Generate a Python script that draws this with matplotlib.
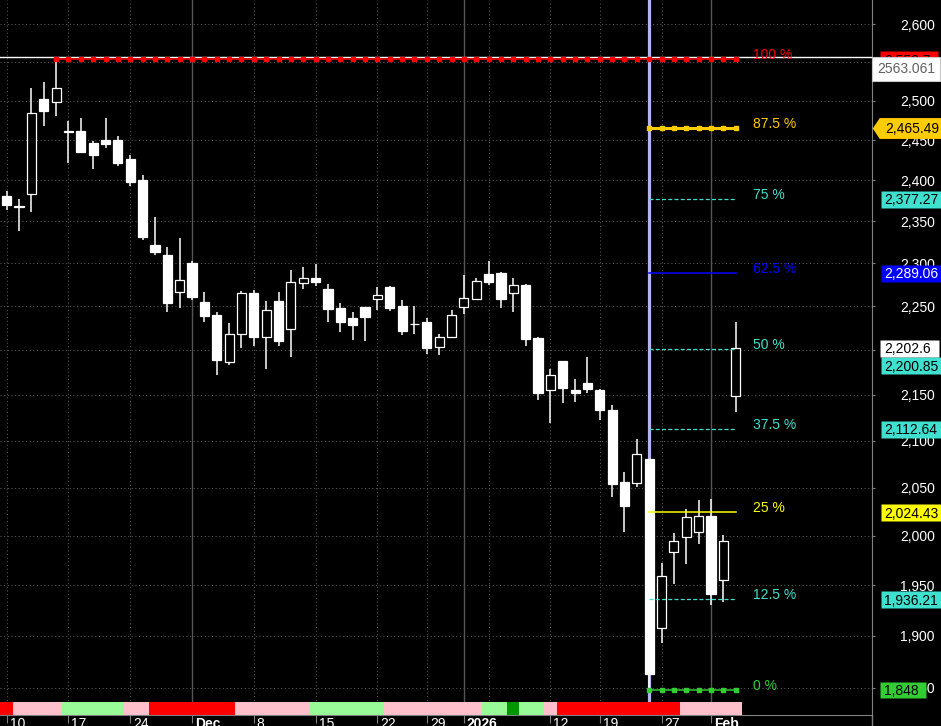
import itertools
import matplotlib
matplotlib.use("Agg")
import matplotlib.pyplot as plt
import matplotlib.ticker as ticker
from matplotlib.lines import Line2D
from matplotlib.transforms import ScaledTranslation
import numpy as np

plt.rcParams['font.family'] = ['Liberation Sans', 'DejaVu Sans']

# daily OHLC, Nov 10 -> Feb 3 (holidays skipped)
opens = [2380.7, 2369.0, 2383.6, 2502.2, 2498.7, 2461.2, 2461.5, 2446.4, 2450.1, 2450.1,
         2426.4, 2400.4, 2321.7, 2309.8, 2266.8, 2300.3, 2254.9, 2239.8, 2186.8, 2217.8,
         2265.3, 2215.0, 2256.1, 2224.0, 2277.2, 2282.7, 2270.0, 2247.9, 2236.4, 2249.1,
         2258.3, 2272.3, 2250.2, 2230.0, 2231.8, 2203.2, 2215.0, 2248.7, 2258.6, 2287.4,
         2288.5, 2265.0, 2274.6, 2213.5, 2155.4, 2187.5, 2155.4, 2163.2, 2155.4, 2133.1,
         2056.0, 2055.3, 2080.1, 1907.7, 1983.7, 1999.0, 2004.4, 2020.5, 1955.2, 2149.0]
highs = [2386.9, 2376.7, 2515.9, 2524.1, 2553.7, 2474.1, 2477.9, 2448.9, 2477.9, 2454.8,
         2431.3, 2406.6, 2355.3, 2319.3, 2330.0, 2302.7, 2266.4, 2243.2, 2230.7, 2267.6,
         2268.8, 2256.1, 2266.4, 2292.1, 2295.6, 2299.2, 2275.8, 2253.7, 2243.2, 2249.5,
         2272.3, 2273.5, 2257.2, 2250.2, 2236.4, 2218.1, 2245.5, 2286.2, 2282.7, 2302.7,
         2289.5, 2282.7, 2275.2, 2214.7, 2178.6, 2188.0, 2167.5, 2192.0, 2156.0, 2138.6,
         2066.6, 2101.5, 2080.5, 1972.3, 2003.2, 2027.6, 2037.0, 2038.0, 2001.2, 2231.8]
lows = [2363.7, 2338.8, 2361.7, 2468.2, 2480.5, 2421.4, 2433.8, 2413.9, 2440.1, 2417.6,
        2393.1, 2327.6, 2310.1, 2243.6, 2248.2, 2257.6, 2232.2, 2172.3, 2183.5, 2202.4,
        2204.8, 2178.9, 2204.8, 2192.4, 2270.0, 2273.5, 2231.8, 2220.4, 2211.2, 2210.1,
        2245.5, 2244.4, 2217.0, 2218.1, 2195.2, 2194.1, 2213.5, 2241.2, 2258.0, 2274.6,
        2247.9, 2243.2, 2204.5, 2144.1, 2118.8, 2140.8, 2141.9, 2152.0, 2122.1, 2040.2,
        2004.3, 2050.8, 1848.0, 1892.9, 1951.2, 1971.3, 1991.9, 1930.7, 1933.3, 2130.9]
closes = [2370.2, 2367.5, 2483.9, 2487.2, 2515.9, 2460.0, 2435.1, 2431.3, 2445.1, 2421.4,
          2398.0, 2331.2, 2313.7, 2254.0, 2280.0, 2261.1, 2239.0, 2189.0, 2217.8, 2265.3,
          2215.0, 2245.2, 2210.4, 2277.7, 2282.4, 2278.0, 2246.7, 2231.8, 2228.4, 2237.5,
          2262.9, 2247.9, 2221.5, 2229.0, 2202.1, 2214.7, 2239.5, 2259.1, 2278.9, 2278.0,
          2258.3, 2274.3, 2212.7, 2152.0, 2172.0, 2157.6, 2152.0, 2156.5, 2133.1, 2053.9,
          2030.8, 2085.4, 1863.1, 1959.2, 1994.6, 2019.2, 2020.5, 1941.3, 1994.6, 2202.6]

# date axis (index of trading day)
tick_pos = [0, 5, 10, 15, 20, 25, 30, 34, 37, 44, 48, 53, 57]
tick_labels = ['10', '17', '24', 'Dec', '8', '15', '22', '29', '2026', '12', '19', '27', 'Feb']
bold_labels = ['Dec', '2026', 'Feb']
week_lines = [0, 5, 10, 20, 25, 30, 34, 39, 44, 48, 53]
month_lines = [15, 37, 57]

# signal strip, one code per day
strip_codes = ("R" "PPPP" "GGGGG" "PP" "RRRRRRR" "PPPPPP" "GGGGGG" "PPPPPPPP"
               "GG" "D" "GG" "P" "RRRRRRRRRR" "PPPPP")
strip_colors = {'R': '#FF0000', 'P': '#FFC0CB', 'G': '#98FB98', 'D': '#009600'}

# retracement levels
level_pct = ['0 %', '12.5 %', '25 %', '37.5 %', '50 %', '62.5 %', '75 %', '87.5 %', '100 %']
level_val = [1848, 1936.21, 2024.43, 2112.64, 2200.85, 2289.06, 2377.27, 2465.49, 2553.7]
low_day = 52
high_day = 4
last_price = 2202.6
cursor_price = 2556.4
cursor_text = '2563.061'
y_ticks = list(range(1850, 2601, 50))

turq = '#40E0D0'
dash = (0, (3.2, 1.8))
level_style = {
    '0 %':    dict(color='#32CD32', ls='-', lw=1.1, marker='s', ms=3),
    '12.5 %': dict(color=turq, ls=dash, lw=0.9, marker=None, ms=0),
    '25 %':   dict(color='#FFFF00', ls='-', lw=1.1, marker=None, ms=0),
    '37.5 %': dict(color=turq, ls=dash, lw=0.9, marker=None, ms=0),
    '50 %':   dict(color=turq, ls=dash, lw=0.9, marker=None, ms=0),
    '62.5 %': dict(color='#0000FF', ls='-', lw=1.1, marker=None, ms=0),
    '75 %':   dict(color=turq, ls=dash, lw=0.9, marker=None, ms=0),
    '87.5 %': dict(color='#FFCC00', ls='-', lw=2.2, marker='s', ms=3.5),
    '100 %':  dict(color='#FF0000', ls='-', lw=1.1, marker='s', ms=3),
}

W, H = 941, 726
fig = plt.figure(figsize=(W / 100, H / 100), dpi=100, facecolor='black')
ax = fig.add_axes([0, 11 / H, 872 / W, 715 / H])
ax.set_facecolor('black')
ax.set_yscale('log')
ax.set_axisbelow(True)

# grid
ax.grid(axis='y', color='#5a5a5a', linestyle=(0, (1, 2.5)), lw=0.75)
for p in week_lines:
    ax.axvline(p, color='#5a5a5a', linestyle=(0, (1, 2.5)), lw=0.75, zorder=0.6)
for p in month_lines:
    ax.axvline(p, color='#555555', lw=1, zorder=0.6)

# marker line at the low day
ax.axvline(low_day, color='#B4B4F0', lw=2.3, zorder=1.5)

# candles
x = np.arange(len(opens))
o = np.array(opens)
c = np.array(closes)
up = c >= o
ax.vlines(x, lows, highs, color='white', lw=1.1, zorder=3)
ax.bar(x, np.maximum(np.abs(c - o), 0.8), bottom=np.minimum(o, c), width=0.74,
       color=np.where(up, 'black', 'white'), edgecolor='white', lw=0.9, zorder=4)

# signal strip
xt = ax.get_xaxis_transform()
pos = 0
for code, grp in itertools.groupby(strip_codes):
    n = len(list(grp))
    ax.broken_barh([(pos - 0.5, n)], (0, 13 / 715), facecolors=strip_colors[code],
                   transform=xt, zorder=6)
    pos += n

# cursor line
ax.axhline(cursor_price, color='white', lw=1, zorder=5)

# retracement lines and labels
for pct, val in zip(level_pct, level_val):
    st = level_style[pct]
    start = high_day if pct == '100 %' else low_day
    xs = np.arange(start, len(opens))
    ax.plot(xs, np.full(len(xs), val), color=st['color'], linestyle=st['ls'], lw=st['lw'],
            marker=st['marker'], ms=st['ms'], zorder=5)
    ax.text(60.4, val, pct, color=st['color'], fontsize=10, ha='left', va='baseline', zorder=7)


def fmt(v):
    return f'{v:,.2f}'.rstrip('0').rstrip('.')


yt = ax.get_yaxis_transform()


def axis_box(price, text, fc, tc, dy=0, width=61, z=10):
    hr = 8.5 / (width / 2)
    shape = [(-1, -hr), (1, -hr), (1, hr), (-1, hr)]
    tr = yt + ScaledTranslation(0, dy / 100, fig.dpi_scale_trans)
    ax.plot([(880 + width / 2) / 872], [price], marker=shape, ms=width * 0.72,
            color=fc, mec='none', transform=tr, clip_on=False, zorder=z)
    ax.annotate(text, xy=(1, price), xycoords=('axes fraction', 'data'),
                xytext=(12, dy), textcoords='offset pixels', ha='left',
                va='center_baseline', fontsize=10, color=tc, zorder=z + 0.5,
                annotation_clip=False)


for pct, val in zip(level_pct, level_val):
    col = level_style[pct]['color']
    txt = fmt(val)
    if pct == '87.5 %':
        pent = [(-1, 0), (-0.8, 0.3), (1, 0.3), (1, -0.3), (-0.8, -0.3)]
        ax.plot([(872 + 941) / 2 / 872], [val], marker=pent, ms=50, color=col, mec='none',
                transform=yt, clip_on=False, zorder=9)
        ax.annotate(txt, xy=(1, val), xycoords=('axes fraction', 'data'),
                    xytext=(13, 0), textcoords='offset pixels', ha='left',
                    va='center_baseline', fontsize=10, color='black', zorder=10,
                    annotation_clip=False)
    elif pct == '62.5 %':
        axis_box(val, txt, col, 'white')
    elif pct == '50 %':
        axis_box(val, txt, col, 'black', dy=-16)
    elif pct == '100 %':
        axis_box(val, txt, col, 'black', width=58, z=9)
    elif pct == '0 %':
        axis_box(val, txt, col, 'black', width=46)
    else:
        axis_box(val, txt, col, 'black')

axis_box(last_price, fmt(last_price), 'white', 'black', width=59, z=11)
ax.annotate(cursor_text, xy=(1, cursor_price), xycoords=('axes fraction', 'data'),
            xytext=(5, -5), textcoords='offset pixels', ha='left', va='top',
            fontsize=10, color='#606060', zorder=12, annotation_clip=False,
            bbox=dict(boxstyle='square,pad=0.35', fc='white', ec='#c8c8c8', lw=0.8))

# axes, ticks
ax.set_ylim(1824.4, 2632.5)
ax.set_xlim(-0.54, 70.03)
for s in ['top', 'left']:
    ax.spines[s].set_visible(False)
for s in ['right', 'bottom']:
    ax.spines[s].set_color('#808080')

ax.yaxis.tick_right()
ax.yaxis.set_major_locator(ticker.FixedLocator(y_ticks))
ax.yaxis.set_minor_locator(ticker.NullLocator())
ax.yaxis.set_major_formatter(ticker.FuncFormatter(lambda v, p: f'{v:,.0f}'))
ax.yaxis.set_minor_formatter(ticker.NullFormatter())
ax.tick_params(axis='y', which='major', direction='out', length=2.2, color='#808080',
               labelcolor='white', labelsize=10, pad=43)
plt.setp(ax.get_yticklabels(), ha='right')

ax.set_xticks(tick_pos, tick_labels)
ax.tick_params(axis='x', direction='out', length=6, color='#808080',
               labelcolor='white', labelsize=10, pad=-4.6)
shift = ScaledTranslation(3 / 100, 0, fig.dpi_scale_trans)
for lbl in ax.get_xticklabels():
    lbl.set_ha('left')
    lbl.set_transform(lbl.get_transform() + shift)
    if lbl.get_text() in bold_labels:
        lbl.set_fontweight('bold')

fig.add_artist(Line2D([872 / W, 872 / W], [0, 11 / H], color='#808080', lw=1))

fig.savefig('out.png', dpi=100, facecolor='black')
